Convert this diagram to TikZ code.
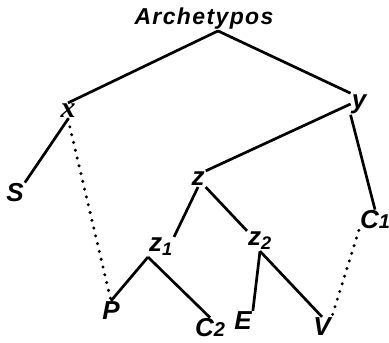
\documentclass[tikz,border=0pt]{standalone}
\usepackage{fontspec}
\newfontfamily\stemmafont{Liberation Sans}
\newfontfamily\archfont{Liberation Sans}[LetterSpace=6]
\newfontfamily\curlyfont{Liberation Serif}

\begin{document}
\begin{tikzpicture}[x=1pt,y=-1pt,
    lbl/.style={inner sep=1pt,font=\stemmafont\bfseries\itshape\fontsize{26}{26}\selectfont},
    edge/.style={line width=2.7pt},
    lost/.style={line width=3.4pt,line cap=round,dash pattern=on 0pt off 8pt}]
    \useasboundingbox (0,0) rectangle (389,343);

    % manuscripts and lost copies
    \node[lbl,font={\archfont\bfseries\itshape\fontsize{23}{23}\selectfont}] (arch) at (204,19) {Archetypos};
    \node[lbl,font={\curlyfont\bfseries\itshape\fontsize{30}{30}\selectfont}] (mx) at (68,111) {x};
    \node[lbl] (my) at (359,104) {y};
    \node[lbl] (mz) at (198,179) {z};
    \node[lbl] (mz1) at (161,247) {z\textsubscript{1}};
    \node[lbl] (mz2) at (260,241) {z\textsubscript{2}};
    \node[lbl] (S) at (15,193) {S};
    \node[lbl] (P) at (111,311) {P};
    \node[lbl] (C2) at (210,328) {C{\fontsize{20}{20}\selectfont 2}};
    \node[lbl] (E) at (243,321) {E};
    \node[lbl] (V) at (322,327) {V};
    \node[lbl] (C1) at (375,220) {C{\fontsize{20}{20}\selectfont 1}};

    % descent
    \draw[edge] ([xshift=14pt]arch.south) -- (mx.north);
    \draw[edge] ([xshift=14pt]arch.south) -- (my.north west);
    \foreach \a/\b in {mx.south/S.north east, my.west/mz.north east, my.south west/C1.north,
                       mz.south/mz1.north east, mz.south east/mz2.north west,
                       mz1.south west/P.north, mz1.south west/C2.north,
                       mz2.south/E.north east, mz2.south/V.north} {
        \draw[edge] (\a) -- (\b);
    }

    % contamination
    \draw[lost] (mx.south) -- (P.north);
    \draw[lost] (C1.south west) -- (V.north east);
\end{tikzpicture}
\end{document}
